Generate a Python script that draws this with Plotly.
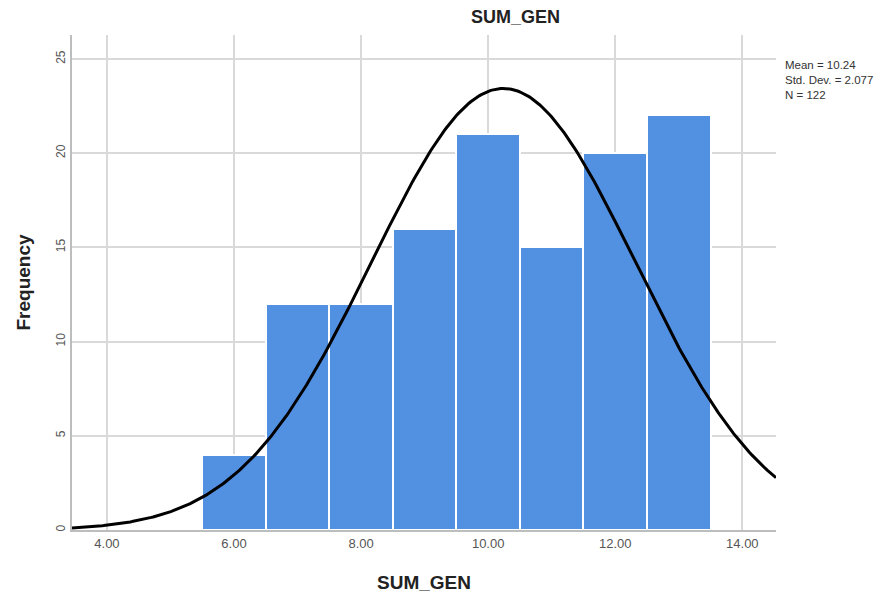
import numpy as np
import plotly.graph_objects as go

# Histogram of SUM_GEN (bin width 1) with fitted normal curve
bin_centers = [6, 7, 8, 9, 10, 11, 12, 13]
counts = [4, 12, 12, 16, 21, 15, 20, 22]
mean_val = 10.24
std_val = 2.077
n_val = 122
bin_width = 1.0

x_ticks = [4, 6, 8, 10, 12, 14]
y_ticks = [0, 5, 10, 15, 20, 25]

x_range = [3.45, 14.53]
y_range = [0, 26.27]

# normal density scaled to histogram counts
xs = np.linspace(x_range[0], x_range[1], 400)
ys = n_val * bin_width / (std_val * np.sqrt(2 * np.pi)) * np.exp(-0.5 * ((xs - mean_val) / std_val) ** 2)

font_family = "Liberation Sans, Arial, sans-serif"

fig = go.Figure()
fig.add_trace(go.Bar(
    x=bin_centers, y=counts, width=bin_width,
    marker=dict(color="#5290E2", line=dict(color="white", width=2)),
    hoverinfo="x+y", showlegend=False,
))
fig.add_trace(go.Scatter(
    x=xs, y=ys, mode="lines",
    line=dict(color="black", width=3),
    hoverinfo="skip", showlegend=False,
))

stats_text = f"Mean = {mean_val:.2f}<br>Std. Dev. = {std_val:.3f}<br>N = {n_val}"

annotations = [
    dict(text="<b>SUM_GEN</b>", xref="paper", yref="paper",
         x=0.630, y=1.0, yshift=18, xanchor="center", yanchor="middle",
         showarrow=False, font=dict(size=18, color="#222")),
    dict(text="<b>SUM_GEN</b>", xref="paper", yref="paper",
         x=0.5, y=0, yshift=-52, xanchor="center", yanchor="middle",
         showarrow=False, font=dict(size=19, color="#222")),
    dict(text="<b>Frequency</b>", xref="paper", yref="paper",
         x=0, xshift=-49, y=0.5, xanchor="center", yanchor="middle",
         textangle=-90, showarrow=False, font=dict(size=19, color="#222")),
    dict(text=stats_text, xref="paper", yref="paper", x=1, xshift=7,
         y=1, yshift=-22, xanchor="left", yanchor="top", align="left",
         showarrow=False, font=dict(size=11.5, color="#333")),
]

fig.update_layout(
    width=894, height=599,
    margin=dict(l=72, r=118, t=35, b=69),
    paper_bgcolor="white", plot_bgcolor="white",
    font=dict(family=font_family, color="#333"),
    bargap=0,
    xaxis=dict(
        range=x_range, tickvals=x_ticks, tickformat=".2f",
        showgrid=True, gridcolor="#d9d9d9", gridwidth=1.5,
        showline=True, linecolor="#bdbdbd", linewidth=2,
        zeroline=False, ticks="",
        tickfont=dict(size=13, color="#555"),
    ),
    yaxis=dict(
        range=y_range, tickvals=y_ticks, tickangle=-90,
        showgrid=True, gridcolor="#d9d9d9", gridwidth=1.5,
        showline=True, linecolor="#bdbdbd", linewidth=2,
        zeroline=False, ticks="",
        tickfont=dict(size=12, color="#555"),
    ),
    annotations=annotations,
)

fig.write_html("out.html")
